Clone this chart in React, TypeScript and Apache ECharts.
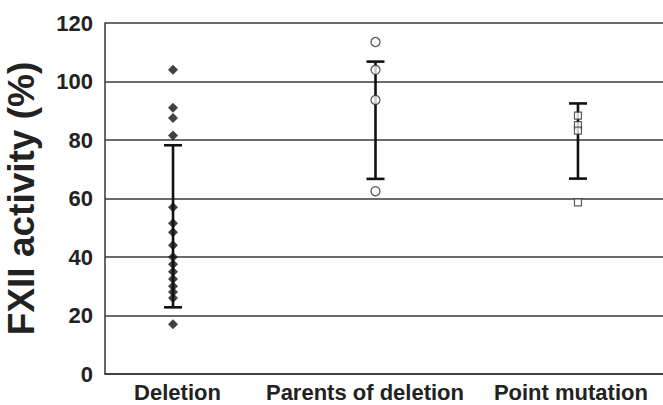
import React, { useEffect, useRef } from "react";
import * as echarts from "echarts";

const categories = ["Deletion", "Parents of deletion", "Point mutation"];
const yTicks = [0, 20, 40, 60, 80, 100, 120];
const deletionValues = [104, 91, 87.5, 81.5, 57, 51.5, 48.5, 44, 40, 37.5, 35, 32.5, 30, 28, 26, 17];
const parentsValues = [113.5, 104, 93.7, 62.5];
const pointValues = [88.3, 85.1, 83.2, 58.7];
// [category position, low, high]
const errorBars = [
  [1, 22.8, 78.2],
  [2, 66.7, 106.8],
  [3, 66.8, 92.5],
];
const labelPositions = [1.022, 1.948, 2.965];

export default function App() {
  const ref = useRef<HTMLDivElement>(null);
  useEffect(() => {
    if (!ref.current) return;
    const chart = echarts.init(ref.current, undefined, { renderer: "svg" });
    const font = "Liberation Sans, Arial, sans-serif";
    chart.setOption({
      animation: false,
      backgroundColor: "#fff",
      grid: { left: 105, top: 23, right: 0, bottom: 31, containLabel: false, outerBoundsMode: "none" },
      xAxis: {
        type: "value",
        min: 0.664,
        max: 3.42,
        splitLine: { show: false },
        axisLine: { show: true, lineStyle: { color: "#333", width: 1.5 } },
        axisTick: { show: false },
        axisLabel: {
          show: true,
          customValues: labelPositions,
          margin: 7,
          fontFamily: font,
          fontWeight: "bold",
          fontSize: 22,
          lineHeight: 22,
          color: "#222",
          formatter: (v: number) => {
            let best = 0;
            labelPositions.forEach((p, i) => {
              if (Math.abs(p - v) < Math.abs(labelPositions[best] - v)) best = i;
            });
            return categories[best];
          },
        },
      },
      yAxis: {
        type: "value",
        min: yTicks[0],
        max: yTicks[yTicks.length - 1],
        interval: 20,
        name: "FXII activity (%)",
        nameLocation: "middle",
        nameGap: 65,
        nameTextStyle: { fontFamily: font, fontWeight: "bold", fontSize: 37, color: "#222" },
        axisLine: { show: true, lineStyle: { color: "#333", width: 1.5 } },
        axisTick: { show: false },
        axisLabel: { margin: 12, fontFamily: font, fontWeight: "bold", fontSize: 22, color: "#222" },
        splitLine: { show: true, lineStyle: { color: "#3a3a3a", width: 1.5 } },
      },
      series: [
        {
          type: "custom",
          z: 2,
          data: errorBars,
          renderItem: (params: any, api: any) => {
            const x = api.value(0);
            const lo = api.coord([x, api.value(1)]);
            const hi = api.coord([x, api.value(2)]);
            const hw = 9;
            const st = { stroke: "#111", lineWidth: 2.6 };
            return {
              type: "group",
              children: [
                { type: "line", shape: { x1: lo[0], y1: lo[1], x2: hi[0], y2: hi[1] }, style: st },
                { type: "line", shape: { x1: lo[0] - hw, y1: lo[1], x2: lo[0] + hw, y2: lo[1] }, style: st },
                { type: "line", shape: { x1: hi[0] - hw, y1: hi[1], x2: hi[0] + hw, y2: hi[1] }, style: st },
              ],
            };
          },
        },
        {
          type: "scatter",
          z: 5,
          symbol: "diamond",
          symbolSize: [10, 10],
          itemStyle: { color: "#111" },
          data: deletionValues.map((v) => [1, v]),
        },
        {
          type: "scatter",
          z: 5,
          symbol: "circle",
          symbolSize: 9,
          itemStyle: { color: "#fff", borderColor: "#333", borderWidth: 1.3 },
          data: parentsValues.map((v) => [2, v]),
        },
        {
          type: "scatter",
          z: 5,
          symbol: "rect",
          symbolSize: 7,
          itemStyle: { color: "#fff", borderColor: "#333", borderWidth: 1.2 },
          data: pointValues.map((v) => [3, v]),
        },
      ],
    });
    return () => chart.dispose();
  }, []);
  return <div ref={ref} style={{ width: 663, height: 405, position: "absolute", left: 0, top: 0 }} />;
}
